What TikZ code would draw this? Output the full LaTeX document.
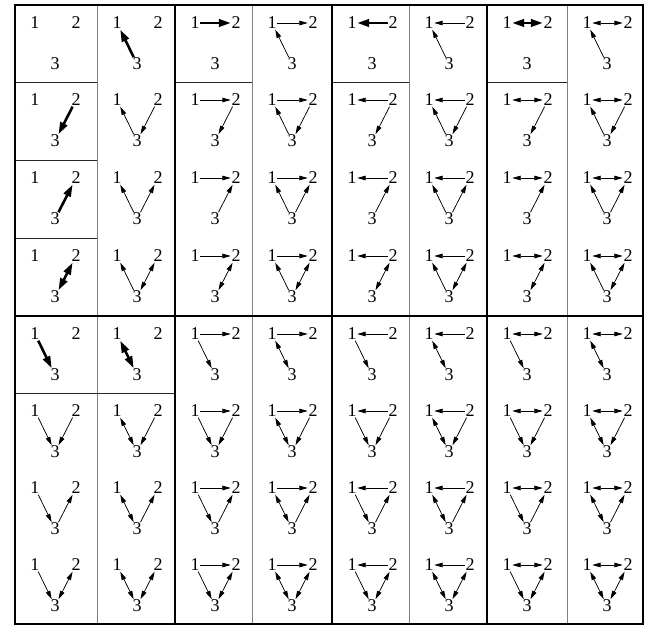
\documentclass[tikz,border=0pt]{standalone}
\usepackage{fontspec}
\setmainfont{Liberation Serif}
\usetikzlibrary{arrows.meta}
\begin{document}
\begin{tikzpicture}[x=1pt,y=-1pt,
  lbl/.style={inner sep=0.5pt, font=\fontsize{18}{18}\selectfont},
  thinedge/.style={line width=0.75pt, >={Triangle[length=8.5pt,width=4.6pt]}},
  boldedge/.style={line width=2.6pt, >={Triangle[length=12pt,width=7.5pt]}},
  major/.style={line width=2.8pt, line cap=rect},
  minor/.style={line width=0.7pt, black!50},
  boxline/.style={line width=0.9pt, black!85}]
\useasboundingbox (0,0) rectangle (657,631);
% thin separators
\foreach \vx in {97,252,409,567}{
  \coordinate (vt\vx) at (\vx,5);
  \coordinate (vb\vx) at (\vx,624);
  \draw[minor] (vt\vx) -- (vb\vx);
}
% inner boxes
\coordinate (h1a) at (15,82);   \coordinate (h1b) at (97,82);
\coordinate (h2a) at (15,160);  \coordinate (h2b) at (97,160);
\coordinate (h3a) at (15,238);  \coordinate (h3b) at (97,238);
\coordinate (h4a) at (175,82);  \coordinate (h4b) at (252,82);
\coordinate (h5a) at (332,82);  \coordinate (h5b) at (409,82);
\coordinate (h6a) at (487,82);  \coordinate (h6b) at (567,82);
\coordinate (h7a) at (15,393);  \coordinate (h7b) at (175,393);
\foreach \i in {1,...,7}{\draw[boxline] (h\i a) -- (h\i b);}
% thick separators
\foreach \vx in {15,175,332,487,643}{
  \coordinate (Vt\vx) at (\vx,5);
  \coordinate (Vb\vx) at (\vx,624);
  \draw[major] (Vt\vx) -- (Vb\vx);
}
\foreach \hy in {5,316,624}{
  \coordinate (Hl\hy) at (15,\hy);
  \coordinate (Hr\hy) at (643,\hy);
  \draw[major] (Hl\hy) -- (Hr\hy);
}
% motifs
\foreach \rr in {0,...,7}{
 \foreach \cc in {0,...,7}{
  \pgfmathsetmacro{\cx}{{15,97,175,252,332,409,487,567}[\cc]}
  \pgfmathsetmacro{\cy}{{5,82,160,238,316,393,470,547}[\rr]}
  \pgfmathtruncatemacro{\pp}{int(\cc/2)}
  \pgfmathtruncatemacro{\qq}{mod(\cc,2)}
  \pgfmathtruncatemacro{\hh}{int(\rr/4)}
  \pgfmathtruncatemacro{\kk}{mod(\rr,4)}
  \pgfmathtruncatemacro{\ot}{2*\hh+\qq}
  \pgfmathtruncatemacro{\nn}{(\pp>0)+(\ot>0)+(\kk>0)}
  \ifnum\nn=1 \tikzset{es/.style={boldedge}}\else\tikzset{es/.style={thinedge}}\fi
  \node[lbl] (A-\rr-\cc) at (\cx+20,\cy+18) {1};
  \node[lbl] (B-\rr-\cc) at (\cx+61,\cy+18) {2};
  \node[lbl] (C-\rr-\cc) at (\cx+40,\cy+59) {3};
  \ifcase\pp\or
    \draw[es,->] (A-\rr-\cc) -- (B-\rr-\cc);\or
    \draw[es,<-] (A-\rr-\cc) -- (B-\rr-\cc);\or
    \draw[es,<->] (A-\rr-\cc) -- (B-\rr-\cc);\fi
  \ifcase\ot\or
    \draw[es,->] (C-\rr-\cc) -- (A-\rr-\cc);\or
    \draw[es,<-] (C-\rr-\cc) -- (A-\rr-\cc);\or
    \draw[es,<->] (C-\rr-\cc) -- (A-\rr-\cc);\fi
  \ifcase\kk\or
    \draw[es,->] (B-\rr-\cc) -- (C-\rr-\cc);\or
    \draw[es,<-] (B-\rr-\cc) -- (C-\rr-\cc);\or
    \draw[es,<->] (B-\rr-\cc) -- (C-\rr-\cc);\fi
 }}
\end{tikzpicture}
\end{document}
